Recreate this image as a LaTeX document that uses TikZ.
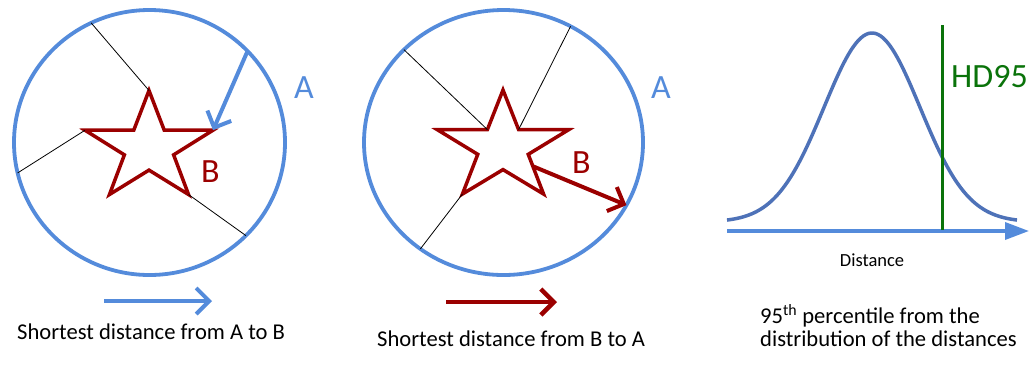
\documentclass[tikz,border=0pt]{standalone}
\usepackage{fontspec}
\setmainfont{Carlito}
\usetikzlibrary{arrows.meta,shapes.geometric,calc}
\definecolor{ringblue}{RGB}{84,139,219}
\definecolor{starred}{RGB}{155,0,0}
\definecolor{curveblue}{RGB}{78,114,184}
\definecolor{hdgreen}{RGB}{10,115,10}

\begin{document}
\begin{tikzpicture}[
		x=1pt, y=-1pt,
		ring/.style={draw=ringblue, line width=3.8pt, ellipse, inner sep=0pt, outer sep=0pt},
		starshape/.style={draw=starred, line width=3.5pt, star, star points=5, star point ratio=2.6, minimum size=115pt, inner sep=0pt, outer sep=0pt, transform shape},
		spoke/.style={black, line width=0.8pt},
		bluearrow/.style={draw=ringblue, line width=4pt, -{Straight Barb[length=13pt, width=26pt]}},
		redarrow/.style={draw=starred, line width=4pt, -{Straight Barb[length=13pt, width=26pt]}},
		setlabel/.style={font=\fontsize{34}{34}\selectfont, inner sep=0pt, anchor=base west},
		caption/.style={font=\fontsize{22.6}{23}\selectfont, inner sep=0pt, anchor=base west, align=left}
	]
	\useasboundingbox (0,0) rectangle (1030,376);

	% left panel: from A to B
	\node[ring, minimum width=271pt, minimum height=265pt] (ringA) at (149.5,142.5) {};
	\begin{scope}[shift={(149,148)}]
		\node[starshape, xscale=1.17] (st1) at (0,0) {};
	\end{scope}
	\draw[spoke] (ringA.116.6) -- (st1.outer point 1);
	\draw[spoke] (ringA.193.6) -- (st1.outer point 2);
	\draw[spoke] (ringA.-44.7) -- (st1.outer point 4);
	\draw[bluearrow] (ringA.43.5) -- (st1.outer point 5);
	\node[setlabel, text=ringblue] (labA1) at (294,98) {A};
	\node[setlabel, text=starred] (labB1) at (201,182) {B};

	% middle panel: from B to A
	\node[ring, minimum width=279pt, minimum height=265pt] (ringB) at (503.5,142.5) {};
	\begin{scope}[shift={(503,147.5)}]
		\node[starshape, xscale=1.2] (st2) at (0,0) {};
	\end{scope}
	\coordinate (bstart) at ($(st2.inner point 4)!0.3!(st2.outer point 4)$);
	\draw[spoke] (ringB.137) -- (st2.inner point 1);
	\draw[spoke] (ringB.60) -- (st2.inner point 5);
	\draw[spoke] (ringB.232) -- (st2.outer point 3);
	\draw[redarrow] (bstart) -- (ringB.-27);
	\node[setlabel, text=ringblue] (labA2) at (651,98) {A};
	\node[setlabel, text=starred] (labB2) at (572,173) {B};

	% arrows under the circles
	\coordinate (ab1) at (104,301);
	\coordinate (ab2) at (212,301);
	\coordinate (ba1) at (446,302);
	\coordinate (ba2) at (557,302);
	\draw[bluearrow] (ab1) -- (ab2);
	\draw[redarrow, line width=4.5pt] (ba1) -- (ba2);
	\node[caption] (capAB) at (17,339) {Shortest distance from A to B};
	\node[caption] (capBA) at (377,346) {Shortest distance from B to A};

	% right panel: distribution
	\coordinate (axstart) at (727,231);
	\coordinate (axend) at (1029,231);
	\draw[draw=ringblue, line width=3.5pt, -{Triangle[length=24pt, width=17pt]}] (axstart) -- (axend);
	\draw[curveblue, line width=3.5pt] plot[domain=727:1017, samples=120, smooth]
		(\x, {222-189*exp(-((\x-872)/48)*((\x-872)/48)/2)});
	\coordinate (hdtop) at (942,25);
	\coordinate (hdbot) at (942,230);
	\draw[hdgreen, line width=3pt] (hdtop) -- (hdbot);
	\node[setlabel, text=hdgreen] (hdlab) at (951,87) {HD95};
	\node[font=\fontsize{18.5}{20}\selectfont, inner sep=0pt, anchor=base] (axlab) at (872,266) {Distance};
	\node[caption] (capHD) at (760,346) {95\textsuperscript{th} percentile from the\\distribution of the distances};
\end{tikzpicture}
\end{document}
